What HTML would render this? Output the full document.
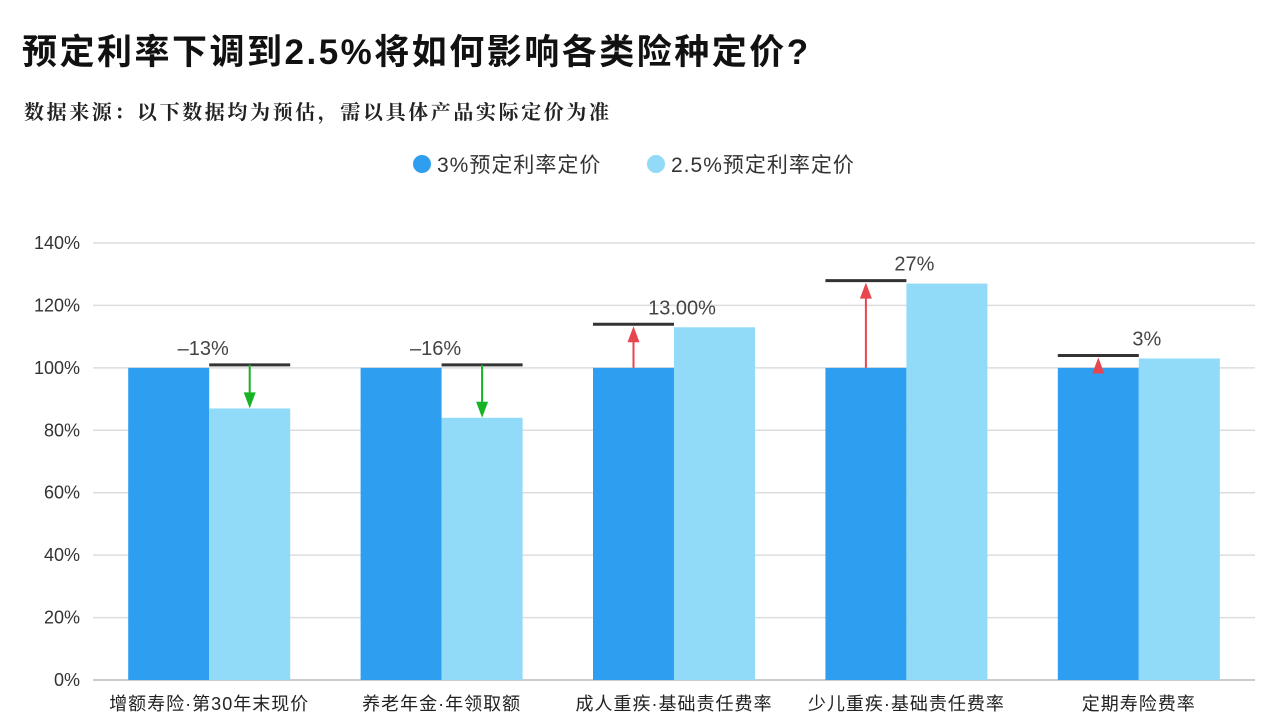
<!DOCTYPE html>
<html><head><meta charset="utf-8">
<style>
body{margin:0;width:1280px;height:728px;background:#fff;font-family:"Liberation Sans","Noto Sans CJK SC",sans-serif;overflow:hidden}
#title{position:absolute;left:22px;top:24px;font-size:35px;letter-spacing:2.5px;font-weight:bold;color:#111;margin:0}
#sub{position:absolute;left:24px;top:96px;font-size:20px;letter-spacing:2.6px;font-weight:bold;color:#222;font-family:"Liberation Serif","Noto Serif CJK SC",serif}
svg{position:absolute;left:0;top:0}
</style></head>
<body>
<h1 id="title">预定利率下调到2.5%将如何影响各类险种定价?</h1>
<div id="sub">数据来源：以下数据均为预估，需以具体产品实际定价为准</div>
<svg id="chart" width="1280" height="728"></svg>
<script>
const categories=["增额寿险·第30年末现价","养老年金·年领取额","成人重疾·基础责任费率","少儿重疾·基础责任费率","定期寿险费率"];
const base=[100,100,100,100,100];
const lowered=[87,84,113,127,103];
const changeLabels=["–13%","–16%","13.00%","27%","3%"];
const ticks=[0,20,40,60,80,100,120,140];
const seriesNames=["3%预定利率定价","2.5%预定利率定价"];
const NS="http://www.w3.org/2000/svg";
const svg=document.getElementById('chart');
const x0=93,x1=1255,y0=680,y1=243,vmax=140;
const y=v=>y0-(v/vmax)*(y0-y1);
const bw=(x1-x0)/categories.length;
const cx=i=>x0+bw*i+bw/2;
const barW=81;
function mk(t,a,p){const e=document.createElementNS(NS,t);for(const k in a)e.setAttribute(k,a[k]);(p||svg).appendChild(e);return e;}
ticks.forEach(t=>{
 const l=mk('line',{x1:x0,x2:x1,y1:y(t),y2:y(t),stroke:t===0?'#bbb':'#ddd','stroke-width':1.5});
 
 
 const tx=mk('text',{x:80,y:y(t)+6,'text-anchor':'end','font-size':18,fill:'#333'});
 tx.textContent=t+'%';
 
 
});
const lg=[[422,'#2e9ff0'],[656,'#91daf8']];
lg.forEach((d,i)=>{
 const c=mk('circle',{cx:d[0],cy:164,r:9,fill:d[1]});
 
 
 const t=mk('text',{x:d[0]+15,y:172,'font-size':21,'letter-spacing':1,fill:'#333'});
 t.textContent=seriesNames[i];
 
 
});
categories.forEach((c,i)=>{
 const m=cx(i);
 const b1=mk('rect',{x:m-barW,y:y(base[i]),width:barW,height:y0-y(base[i]),fill:'#2e9ff0'});
 
 
 const b2=mk('rect',{x:m,y:y(lowered[i]),width:barW,height:y0-y(lowered[i]),fill:'#91daf8'});
 
 
 const up=lowered[i]>base[i];
 let lx,ly,ax,ay0,ay1,col;
 if(up){lx=m-barW;ly=y(lowered[i])-3;ax=m-barW/2;ay0=y(base[i]);ay1=ly;col='#e8454f';}
 else{lx=m;ly=y(base[i])-3;ax=m+barW/2;ay0=ly;ay1=y(lowered[i]);col='#17b324';}
 const bl=mk('line',{x1:lx,x2:lx+barW,y1:ly,y2:ly,stroke:'#333','stroke-width':3});
 
 
 const dir=up?-1:1;
 const tipY=up?ay1+2:ay1;
 const sh=mk('line',{x1:ax,x2:ax,y1:ay0,y2:tipY-dir*14,stroke:col,'stroke-width':2});
 
 
 const hd=mk('polygon',{points:`${ax-6},${tipY-dir*16} ${ax+6},${tipY-dir*16} ${ax},${tipY}`,fill:col});
 
 
 const tl=mk('text',{x:up?m+8:m-6,y:ly-10,'text-anchor':'middle','font-size':20,fill:'#444'});
 tl.textContent=changeLabels[i];
 
 
 const xl=mk('text',{x:m,y:710,'text-anchor':'middle','font-size':18,'letter-spacing':1,fill:'#222'});
 xl.textContent=c;
 
 
});
</script>
</body></html>
